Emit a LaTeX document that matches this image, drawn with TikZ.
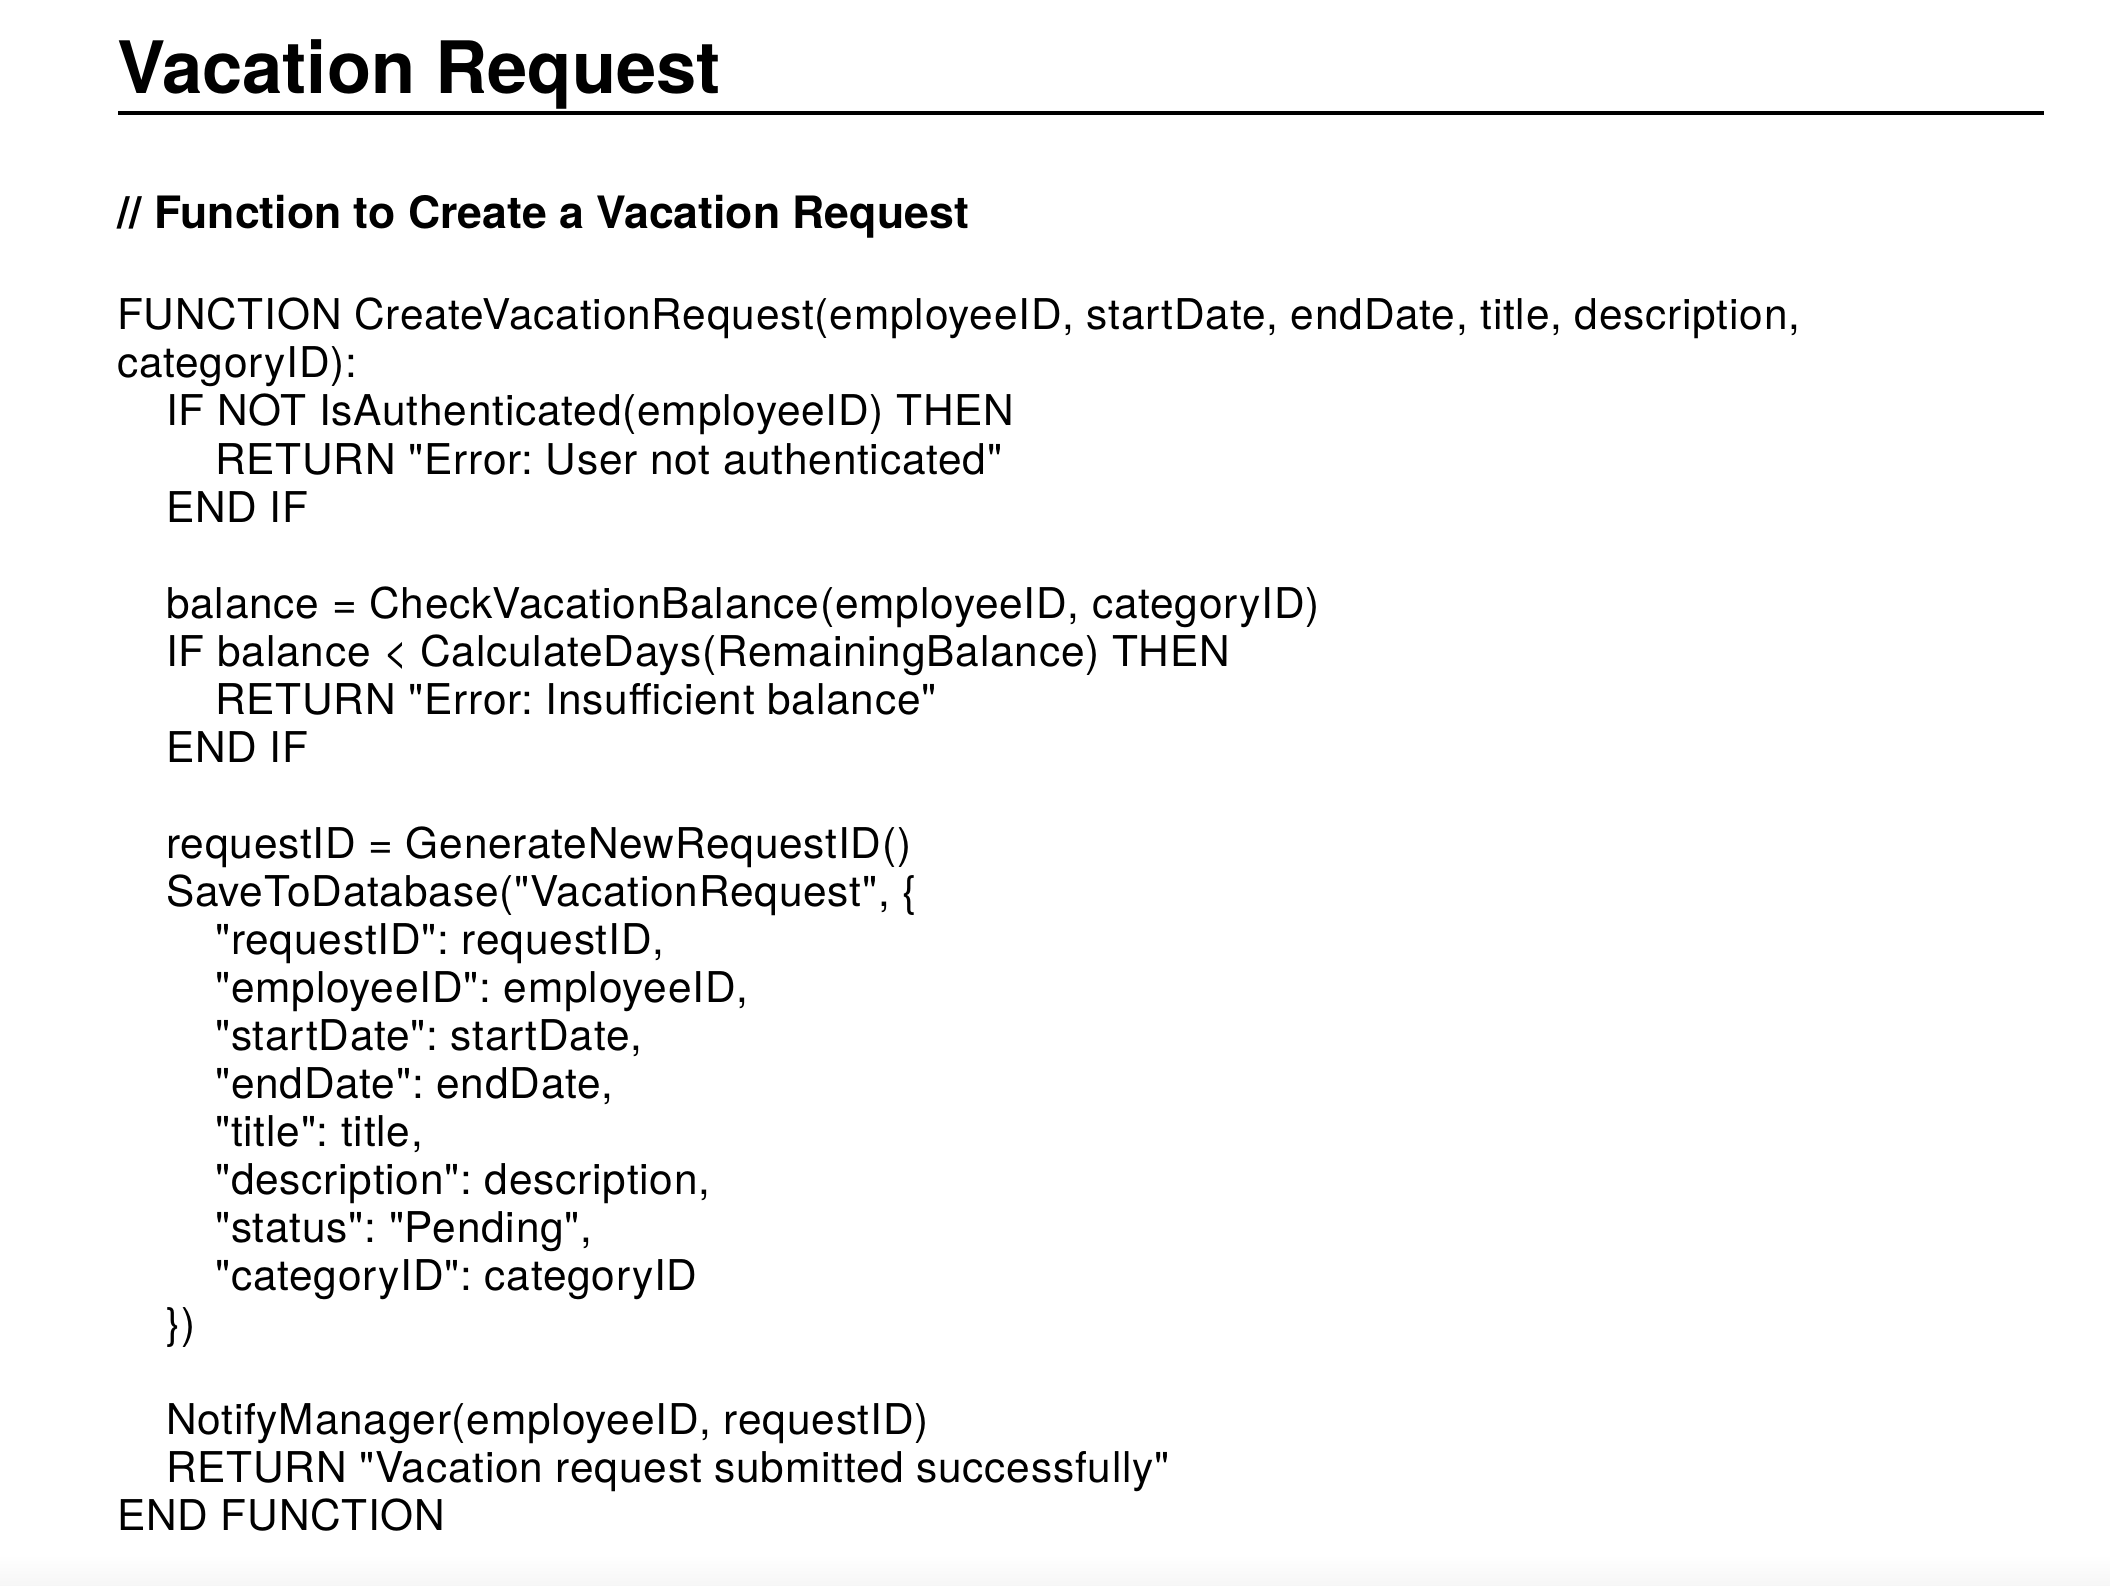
\documentclass[tikz,border=0pt]{standalone}
\usepackage{fontspec}
\setmainfont{TeX Gyre Heros}[Ligatures=TeXOff]
\newfontfamily\codefont{TeX Gyre Heros}[Ligatures=TeXOff, LetterSpace=1.9]
\frenchspacing
\tikzset{
  x=1pt, y=-1pt,
  titletext/.style={anchor=base west, inner sep=0pt, font=\fontsize{72.3}{80}\selectfont\bfseries},
  subtext/.style={anchor=base west, inner sep=0pt, font=\fontsize{44.6}{50}\selectfont\bfseries},
  codetext/.style={anchor=base west, inner sep=0pt, font=\codefont\fontsize{42.4}{48}\selectfont\frenchspacing},
}
\begin{document}
\begin{tikzpicture}
\useasboundingbox (0,0) rectangle (2110,1586);
\fill[white] (0,0) rectangle (2110,1586);
\shade[top color=white, bottom color={rgb,255:red,246;green,246;blue,246}] (0,1555) rectangle (2110,1586);

\node[titletext] (title) at (117,94) {Vacation Request};
\coordinate (ruleL) at (118,113);
\coordinate (ruleR) at (2044,113);
\draw[line width=3.5pt] (ruleL) -- (ruleR);

\node[subtext] (sub) at (117,229) {// Function to Create a Vacation Request};

\node[codetext] (l0) at (117,330) {FUNCTION CreateVacationRequest(employeeID, startDate, endDate, title, description,};
\node[codetext] (l1) at (117,378) {categoryID):};
\node[codetext] (l2) at (166,426) {IF NOT IsAuthenticated(employeeID) THEN};
\node[codetext] (l3) at (215,474) {RETURN "Error: User not authenticated"};
\node[codetext] (l4) at (166,522) {END IF};

\node[codetext] (l6) at (166,618) {balance = CheckVacationBalance(employeeID, categoryID)};
\node[codetext] (l7) at (166,666) {IF balance < CalculateDays(RemainingBalance) THEN};
\node[codetext] (l8) at (215,714) {RETURN "Error: Insufficient balance"};
\node[codetext] (l9) at (166,762) {END IF};

\node[codetext] (l11) at (166,858) {requestID = GenerateNewRequestID()};
\node[codetext] (l12) at (166,906) {SaveToDatabase("VacationRequest", \{};
\node[codetext] (l13) at (215,954) {"requestID": requestID,};
\node[codetext] (l14) at (215,1002) {"employeeID": employeeID,};
\node[codetext] (l15) at (215,1050) {"startDate": startDate,};
\node[codetext] (l16) at (215,1098) {"endDate": endDate,};
\node[codetext] (l17) at (215,1146) {"title": title,};
\node[codetext] (l18) at (215,1194) {"description": description,};
\node[codetext] (l19) at (215,1242) {"status": "Pending",};
\node[codetext] (l20) at (215,1290) {"categoryID": categoryID};
\node[codetext] (l21) at (166,1338) {\})};

\node[codetext] (l23) at (166,1434) {NotifyManager(employeeID, requestID)};
\node[codetext] (l24) at (166,1482) {RETURN "Vacation request submitted successfully"};
\node[codetext] (l25) at (117,1530) {END FUNCTION};
\end{tikzpicture}
\end{document}
